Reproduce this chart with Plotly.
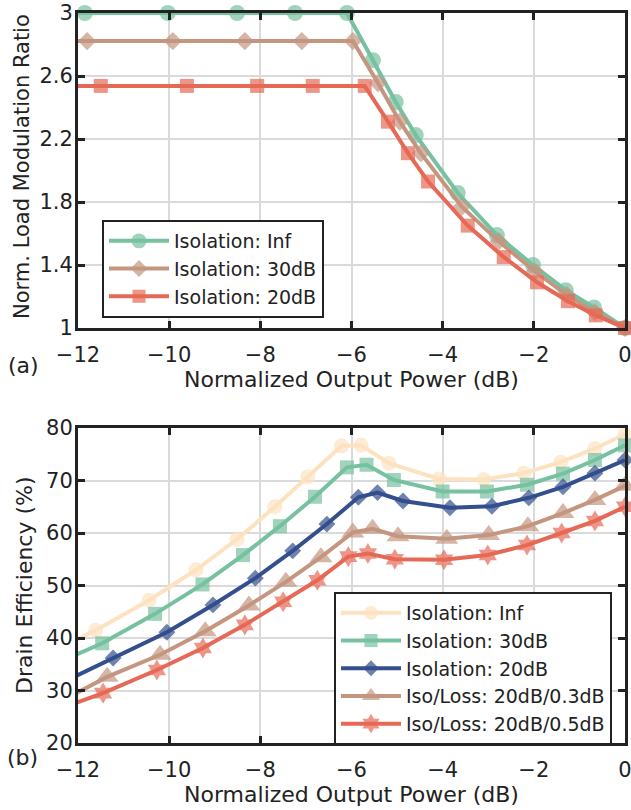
import plotly.graph_objects as go
from plotly.subplots import make_subplots

# ---------------- data: panel (a) ----------------
a_inf_x = [-13, -11.85, -10.03, -8.51, -7.24, -6.10, -5.53, -5.03, -4.59, -3.67, -2.81, -2.02, -1.30, -0.68, 0]
a_inf_y = [3, 3, 3, 3, 3, 3, 2.70, 2.435, 2.225, 1.857, 1.59, 1.40, 1.24, 1.13, 1.0]
a_30_x = [-13, -11.80, -9.92, -8.34, -7.09, -5.97, -5.42, -4.94, -4.48, -3.58, -2.77, -1.98, -1.28, -0.66, 0]
a_30_y = [2.822, 2.822, 2.822, 2.822, 2.822, 2.822, 2.555, 2.31, 2.11, 1.77, 1.55, 1.36, 1.21, 1.10, 1.0]
a_20_x = [-13, -11.50, -9.61, -8.07, -6.85, -5.71, -5.20, -4.76, -4.32, -3.45, -2.66, -1.93, -1.25, -0.64, 0]
a_20_y = [2.537, 2.537, 2.537, 2.537, 2.537, 2.537, 2.31, 2.11, 1.93, 1.65, 1.45, 1.29, 1.17, 1.08, 1.0]

# ---------------- data: panel (b) ----------------
b_inf_x = [-12.8, -11.61, -10.44, -9.41, -8.51, -7.68, -6.96, -6.22, -5.79, -5.18, -4.08, -3.10, -2.22, -1.41, -0.66, 0]
b_inf_y = [36.3, 41.5, 47.2, 53.0, 58.8, 65.0, 70.7, 76.6, 76.7, 73.3, 70.3, 70.2, 71.4, 73.5, 76.1, 78.8]
b_30_x = [-12.6, -11.47, -10.31, -9.27, -8.38, -7.57, -6.80, -6.10, -5.67, -5.07, -4.00, -3.03, -2.15, -1.36, -0.66, 0]
b_30_y = [34.7, 39.0, 44.6, 50.2, 55.8, 61.3, 66.9, 72.5, 73.0, 70.1, 67.9, 67.9, 69.2, 71.3, 73.9, 76.7]
b_20_x = [-12.4, -11.23, -10.05, -9.04, -8.11, -7.29, -6.54, -5.85, -5.43, -4.87, -3.84, -2.92, -2.11, -1.36, -0.66, 0]
b_20_y = [31.3, 36.2, 41.1, 46.3, 51.4, 56.6, 61.7, 66.8, 67.7, 66.1, 64.8, 65.1, 66.7, 68.8, 71.4, 73.9]
b_l3_x = [-12.5, -11.36, -10.20, -9.21, -8.25, -7.44, -6.67, -5.97, -5.54, -4.98, -3.91, -2.99, -2.13, -1.36, -0.66, 0]
b_l3_y = [27.4, 32.6, 36.8, 41.3, 46.2, 50.7, 55.4, 60.1, 60.8, 59.4, 58.9, 59.6, 61.3, 63.8, 66.3, 69.0]
b_l5_x = [-12.6, -11.45, -10.27, -9.26, -8.34, -7.50, -6.75, -6.07, -5.64, -5.05, -3.97, -3.01, -2.15, -1.39, -0.66, 0]
b_l5_y = [25.9, 29.5, 33.9, 38.1, 42.5, 46.9, 51.0, 55.5, 56.1, 55.0, 54.9, 55.8, 57.7, 60.0, 62.3, 65.0]

a_names = ["Isolation: Inf", "Isolation: 30dB", "Isolation: 20dB"]
b_names = ["Isolation: Inf", "Isolation: 30dB", "Isolation: 20dB",
           "Iso/Loss: 20dB/0.3dB", "Iso/Loss: 20dB/0.5dB"]

x_ticks = [-12, -10, -8, -6, -4, -2, 0]
a_ticks = [1, 1.4, 1.8, 2.2, 2.6, 3]
a_ticktext = ["1", "1.4", "1.8", "2.2", "2.6", "3"]
b_ticks = [20, 30, 40, 50, 60, 70, 80]

x_title = "Normalized Output Power (dB)"
a_ytitle = "Norm. Load Modulation Ratio"
b_ytitle = "Drain Efficiency (%)"

GREEN = "#76C1A0"
BROWN = "#C49680"
RED = "#E56956"
PEACH = "#FCE2C1"
NAVY = "#334F8D"
INK = "#222222"
FONT = "DejaVu Sans"

fig = make_subplots(rows=2, cols=1)


def sizes(xs, s):
    return [0 if v < -12 else s for v in xs]


def add(xs, ys, name, color, symbol, msize, row, legend):
    fig.add_trace(go.Scatter(
        x=xs, y=ys, name=name, mode="lines+markers",
        line=dict(color=color, width=4),
        marker=dict(color=color, symbol=symbol, size=sizes(xs, msize), line=dict(width=0)),
        cliponaxis=False, legend=legend,
    ), row=row, col=1)


add(a_inf_x, a_inf_y, a_names[0], GREEN, "circle", 16, 1, "legend")
add(a_30_x, a_30_y, a_names[1], BROWN, "diamond", 14, 1, "legend")
add(a_20_x, a_20_y, a_names[2], RED, "square", 14, 1, "legend")

add(b_inf_x, b_inf_y, b_names[0], PEACH, "circle", 15, 2, "legend2")
add(b_30_x, b_30_y, b_names[1], GREEN, "square", 14, 2, "legend2")
add(b_20_x, b_20_y, b_names[2], NAVY, "diamond", 13, 2, "legend2")
add(b_l3_x, b_l3_y, b_names[3], BROWN, "triangle-up", 20, 2, "legend2")
add(b_l5_x, b_l5_y, b_names[4], RED, "hexagram", 16, 2, "legend2")

axis_common = dict(
    showline=True, linecolor=INK, linewidth=3, mirror="ticks",
    ticks="inside", ticklen=7, tickwidth=2.5, tickcolor=INK,
    showgrid=True, gridcolor="#DADADA", gridwidth=2, zeroline=False,
    automargin=False, ticklabeloverflow="allow",
    tickfont=dict(family=FONT, size=21, color=INK),
)

for r in (1, 2):
    fig.update_xaxes(range=[-12, 0], tickvals=x_ticks, ticklabelstandoff=6,
                     title=dict(text=x_title,
                                font=dict(family=FONT, size=22, color=INK), standoff=6),
                     row=r, col=1, **axis_common)

fig.update_yaxes(range=[1, 3], tickvals=a_ticks, ticktext=a_ticktext, ticklabelstandoff=-2,
                 row=1, col=1, **axis_common)
fig.update_yaxes(range=[20, 80], tickvals=b_ticks, ticklabelstandoff=-2,
                 row=2, col=1, **axis_common)

legend_common = dict(xanchor="left", yanchor="top",
                     bgcolor="white", bordercolor=INK, borderwidth=2,
                     font=dict(family=FONT, size=19, color=INK),
                     itemwidth=60, tracegroupgap=0)

W, H = 631, 810
ML, MR, MT, MB = 78, 6, 13, 67
PW, PH = W - ML - MR, H - MT - MB


def px(xf):
    return (xf - ML) / PW


def py(yf):
    return (H - MB - yf) / PH


txt = dict(family=FONT, size=22, color=INK)
fig.update_layout(
    template="none",
    width=W, height=H,
    margin=dict(l=ML, r=MR, t=MT, b=MB),
    paper_bgcolor="white", plot_bgcolor="white",
    font=dict(family=FONT, color=INK),
    xaxis=dict(domain=[0, 1]), xaxis2=dict(domain=[0, 1]),
    yaxis=dict(domain=[0.5685, 1.0]), yaxis2=dict(domain=[0.0, 0.4315]),
    legend=dict(x=px(102), y=py(220), **legend_common),
    legend2=dict(x=px(334), y=py(592), **legend_common),
    showlegend=True,
    annotations=[
        dict(text=a_ytitle, x=px(22), y=py(167), xref="paper", yref="paper",
             textangle=-90, showarrow=False, xanchor="center", yanchor="middle",
             font=dict(family=FONT, size=21, color=INK)),
        dict(text=b_ytitle, x=px(24), y=py(585), xref="paper", yref="paper",
             textangle=-90, showarrow=False, xanchor="center", yanchor="middle", font=txt),
        dict(text="(a)", x=px(6), y=py(366), xref="paper", yref="paper",
             xanchor="left", yanchor="middle", showarrow=False, font=txt),
        dict(text="(b)", x=px(5), y=py(757), xref="paper", yref="paper",
             xanchor="left", yanchor="middle", showarrow=False, font=txt),
    ],
)

# remove the browser's default body margin so the figure fills the window exactly
fig.write_html("out.html", config={"displayModeBar": False},
               post_script="document.body.style.margin='0px';")
